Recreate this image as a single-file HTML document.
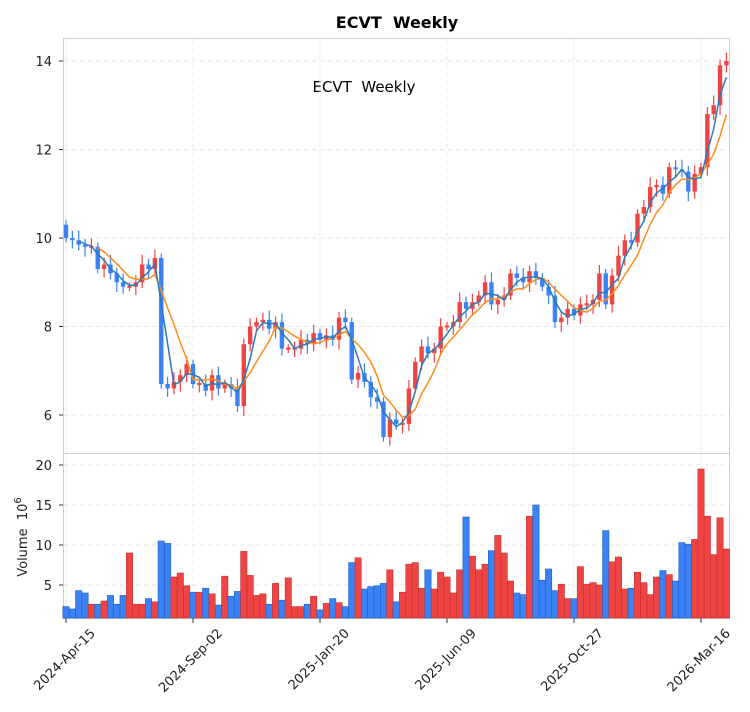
<!DOCTYPE html>
<html><head><meta charset="utf-8"><style>
html,body{margin:0;padding:0;background:#fff;}
svg{display:block;font-family:"DejaVu Sans","Liberation Sans",sans-serif;}
</style></head><body>
<svg id="s" width="750" height="712" viewBox="0 0 750 712" xmlns="http://www.w3.org/2000/svg">
<rect width="750" height="712" fill="#fff"/>
<text x="397" y="28" text-anchor="middle" font-size="16" font-weight="bold" style="white-space:pre">ECVT  Weekly</text>
<text x="364" y="92" text-anchor="middle" font-size="15" style="white-space:pre">ECVT  Weekly</text>
<g id="g"></g>
</svg>
<script>
var C=[10.0,9.95,9.85,9.8,9.8,9.3,9.4,9.2,9.0,8.9,8.9,9.0,9.4,9.3,9.55,6.7,6.6,6.75,6.9,7.15,6.7,6.7,6.55,6.9,6.6,6.7,6.6,6.2,7.6,8.0,8.1,8.15,7.95,8.1,7.5,7.5,7.5,7.7,7.6,7.85,7.7,7.8,7.7,8.2,8.1,6.8,6.95,6.75,6.4,6.3,5.5,5.9,5.8,5.8,6.6,7.2,7.55,7.4,7.5,8.0,8.0,8.1,8.55,8.4,8.55,8.7,9.0,8.5,8.6,8.7,9.2,9.1,9.0,9.25,9.1,8.9,8.7,8.1,8.2,8.4,8.25,8.5,8.5,8.6,9.2,8.5,9.15,9.6,9.95,9.9,10.55,10.7,11.15,11.2,11.0,11.6,11.55,11.5,11.05,11.45,11.6,12.8,13.0,13.9,14.0];
var V=[2.3,2.0,4.3,4.0,2.6,2.6,3.0,3.7,2.6,3.7,9.0,2.6,2.6,3.3,2.9,10.5,10.2,6.0,6.5,4.9,4.1,4.1,4.6,3.9,2.5,6.1,3.6,4.2,9.2,6.2,3.7,3.9,2.6,5.2,3.1,5.9,2.3,2.3,2.6,3.6,1.9,2.7,3.3,2.8,2.3,7.8,8.4,4.5,4.8,4.9,5.2,6.9,2.9,4.1,7.6,7.8,4.6,6.9,4.5,6.6,6.0,4.0,6.9,13.5,8.6,6.9,7.6,9.3,11.2,9.0,5.5,4.0,3.8,13.6,15.0,5.6,7.0,4.3,5.1,3.3,3.3,7.3,5.1,5.3,5.0,11.8,7.9,8.5,4.5,4.6,6.6,5.3,3.8,6.0,6.8,6.3,5.5,10.3,10.1,10.7,19.5,13.6,8.8,13.4,9.5];
var O=[10.3];for(var i=1;i<C.length;i++)O.push(C[i-1]);
var X=function(i){return 66+6.35*i},Y=function(p){return 415-(p-6)*44.25},VY=function(v){return 625-8*v};
var h='';
h+='<rect x="63.5" y="38.5" width="666" height="415" fill="none" stroke="#ccc"/>';
h+='<rect x="63.5" y="453.5" width="666" height="165" fill="none" stroke="#ccc"/>';
var xt=[[66,'2024-Apr-15'],[193,'2024-Sep-02'],[320,'2025-Jan-20'],[447,'2025-Jun-09'],[574,'2025-Oct-27'],[701,'2026-Mar-16']];
xt.forEach(function(t){h+='<line x1="'+t[0]+'" y1="39" x2="'+t[0]+'" y2="618" stroke="#e8e8e8" stroke-dasharray="5,3"/>';
h+='<line x1="'+t[0]+'" y1="618" x2="'+t[0]+'" y2="623" stroke="#333"/>';
h+='<text transform="translate('+(t[0]+30)+',634) rotate(-45)" text-anchor="end" font-size="13" fill="#222">'+t[1]+'</text>';});
[6,8,10,12,14].forEach(function(p){var y=Y(p);h+='<line x1="64" y1="'+y+'" x2="729" y2="'+y+'" stroke="#e8e8e8" stroke-dasharray="5,3"/><line x1="59" y1="'+y+'" x2="63" y2="'+y+'" stroke="#333"/><text x="52" y="'+(y+5)+'" text-anchor="end" font-size="13" fill="#222">'+p+'</text>';});
[5,10,15,20].forEach(function(v){var y=VY(v);h+='<line x1="64" y1="'+y+'" x2="729" y2="'+y+'" stroke="#e8e8e8" stroke-dasharray="5,3"/><line x1="59" y1="'+y+'" x2="63" y2="'+y+'" stroke="#333"/><text x="52" y="'+(y+5)+'" text-anchor="end" font-size="13" fill="#222">'+v+'</text>';});
h+='<text transform="translate(27,537) rotate(-90)" text-anchor="middle" font-size="13" fill="#222" style="white-space:pre">Volume  10<tspan dy="-6" font-size="10">6</tspan></text>';
for(var i=0;i<C.length;i++){var up=C[i]>=O[i],col=up?'#ef4444':'#3b82f6',ec=up?'#c53030':'#1d5fc4';var y=VY(V[i]);
h+='<rect x="'+(X(i)-3.17)+'" y="'+y+'" width="6.35" height="'+(618-y)+'" fill="'+col+'" stroke="'+ec+'" stroke-width="0.6"/>';}
for(var i=0;i<C.length;i++){var up=C[i]>=O[i],col=up?'#ef4444':'#3b82f6';var hi=Math.max(O[i],C[i])+0.1+0.12*((i*7)%5)/4,lo=Math.min(O[i],C[i])-0.1-0.12*((i*3)%5)/4;
h+='<line x1="'+X(i)+'" y1="'+Y(hi)+'" x2="'+X(i)+'" y2="'+Y(lo)+'" stroke="'+col+'" stroke-width="1.2"/>';
var t=Y(Math.max(O[i],C[i])),b=Y(Math.min(O[i],C[i]));if(b-t<2){t-=1;b+=1;}
h+='<rect x="'+(X(i)-2.2)+'" y="'+t+'" width="4.4" height="'+(b-t)+'" fill="'+col+'"/>';}
function ma(n){var p=[];for(var i=n-1;i<C.length;i++){var s=0;for(var j=0;j<n;j++)s+=C[i-j];p.push(X(i).toFixed(1)+','+Y(s/n).toFixed(1));}return p.join(' ');}
h+='<polyline points="'+ma(6)+'" fill="none" stroke="#ff8c1a" stroke-width="1.5"/>';
h+='<polyline points="'+ma(3)+'" fill="none" stroke="#2b7bba" stroke-width="1.5"/>';
document.getElementById('g').innerHTML=h;
</script>
</body></html>
